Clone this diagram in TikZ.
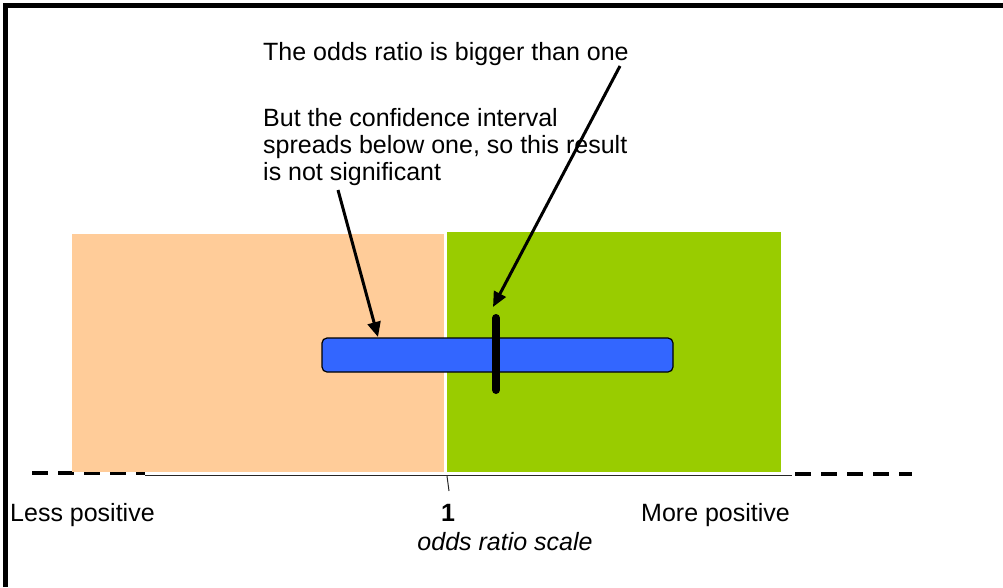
\documentclass[tikz,border=0pt]{standalone}
\usepackage{fontspec}
\setmainfont{Liberation Sans}
\usetikzlibrary{arrows.meta}
\definecolor{peach}{HTML}{FFCC99}
\definecolor{lime}{HTML}{99CC00}
\definecolor{barblue}{HTML}{3366FF}
\tikzset{
  lbl/.style={inner sep=0pt, font=\fontsize{25}{27}\selectfont, text=black},
  callout/.style={line width=3pt, -{Triangle[length=15pt,width=13pt]}},
  thickdash/.style={line width=4pt, dash pattern=on 16pt off 10pt},
}
\begin{document}
\begin{tikzpicture}[x=1pt,y=-1pt]
\useasboundingbox (0,0) rectangle (1003,587);
% frame
\draw[line width=5pt] (5.5,587) -- (5.5,5) -- (1003,5);
% axis dashes (partly under boxes)
\draw[thickdash] (32,473) -- (145,473);
% zones
\fill[peach] (72,234) rectangle (444,472);
\fill[lime] (447,232) rectangle (781,472);
% solid axis
\draw[line width=1.5pt, black!85] (145,475.5) -- (792,475.5);
\draw[thickdash] (795,474) -- (912,474);
% tick at 1
\draw[line width=1pt, black!85] (447,476) -- (449,491);
% labels
\node[lbl, anchor=base west] (less) at (10,521) {Less positive};
\node[lbl, anchor=base, font=\fontsize{25}{27}\selectfont\bfseries] (one) at (448,521) {1};
\node[lbl, anchor=base west] (more) at (641,521) {More positive};
\node[lbl, anchor=base, font=\fontsize{25}{27}\selectfont\itshape] (scale) at (505,550) {odds ratio scale};
% confidence interval bar
\node[draw=black, line width=1.2pt, fill=barblue, rounded corners=5pt, minimum width=351pt, minimum height=34pt, inner sep=0pt] (bar) at (497.5,355) {};
% point estimate
\draw[line width=8pt, line cap=round] (496,318) -- (496,390);
\coordinate (est) at (493,307);
% texts
\node[lbl, anchor=base west] (t1) at (263,60) {The odds ratio is bigger than one};
\node[lbl, anchor=base west] (t2) at (263,126) {But the confidence interval};
\node[lbl, anchor=base west] (t3) at (263,153) {spreads below one, so this result};
\node[lbl, anchor=base west] (t4) at (263,180) {is not significant};
% callouts
\coordinate (s1) at (338,190);
\coordinate (s2) at (620,66);
\draw[callout] (s1) -- (378,337);
\draw[callout] (s2) -- (est);
\end{tikzpicture}
\end{document}
